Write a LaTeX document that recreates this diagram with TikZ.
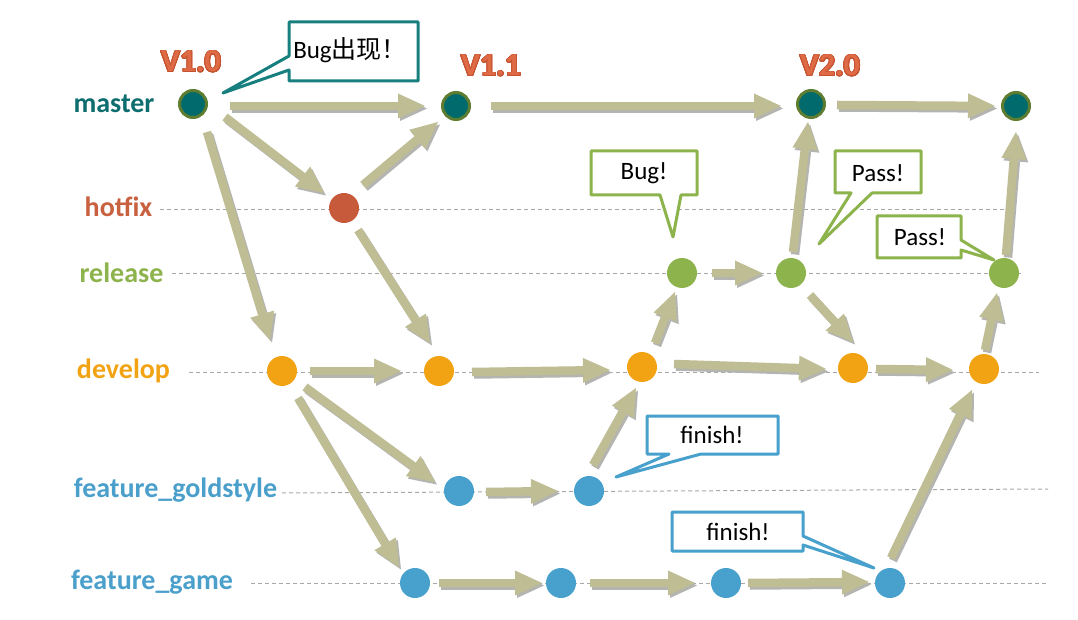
\documentclass[tikz,border=0pt]{standalone}
\usepackage{fontspec}
\setmainfont{Carlito}
\newfontfamily\cjkfont{Noto Sans CJK SC}
\usepackage{contour}
\contourlength{0.9pt}
\contournumber{24}
\usetikzlibrary{arrows.meta}

\definecolor{cMaster}{HTML}{006A6C}
\definecolor{cMasterRim}{HTML}{5E7D31}
\definecolor{cMasterTxt}{HTML}{0E6E6F}
\definecolor{cHot}{HTML}{C65A3B}
\definecolor{cHotTxt}{HTML}{C9603F}
\definecolor{cRel}{HTML}{8DB34C}
\definecolor{cDev}{HTML}{F2A314}
\definecolor{cFeat}{HTML}{47A1CC}
\definecolor{cFeatTxt}{HTML}{4A9FCB}
\definecolor{cArrow}{HTML}{BFBD93}
\definecolor{cArrowSh}{HTML}{B4B4B0}
\definecolor{cGuide}{HTML}{A8A8A8}
\definecolor{cVer}{HTML}{DE6B45}
\definecolor{cVerRim}{HTML}{C5532F}
\definecolor{cTealBox}{HTML}{17807F}

\tikzset{
  commit/.style={circle, inner sep=0pt, minimum size=30pt},
  mcommit/.style={commit, fill=cMaster, draw=cMasterRim, line width=3pt, minimum size=27pt},
  hcommit/.style={commit, fill=cHot},
  rcommit/.style={commit, fill=cRel},
  dcommit/.style={commit, fill=cDev},
  fcommit/.style={commit, fill=cFeat},
  branch/.style={font=\bfseries\fontsize{28}{30}\selectfont, anchor=base, inner sep=0pt},
  version/.style={font=\bfseries\fontsize{32}{34}\selectfont, anchor=base, inner sep=0pt, text=cVer},
  guide/.style={draw=cGuide, line width=1pt, dash pattern=on 4pt off 3pt},
  flow/.style={draw=cArrow, line width=8.5pt,
    -{Triangle[length=27pt,width=25pt,line width=0pt]}},
  flowshadow/.style={flow, draw=cArrowSh, transform canvas={shift={(2pt,-2.5pt)}}},
  callout/.style={fill=white, line width=3pt, line join=round},
  calltext/.style={font=\fontsize{25}{28}\selectfont, inner sep=0pt}
}

% merge/branch arrow with a soft drop shadow:
% #1 from-node, #2 offset from its centre, #3 to-node, #4 offset from its centre
\newcommand\flowarrow[4]{%
  \draw[flowshadow] ([shift={#2}]#1.center) -- ([shift={#4}]#3.center);
  \draw[flow] ([shift={#2}]#1.center) -- ([shift={#4}]#3.center);}

\begin{document}
\begin{tikzpicture}[x=1pt, y=-1pt]
\path[use as bounding box, fill=white] (0,0) rectangle (1078,620);

% branch names
\node[branch, text=cMasterTxt] (lmaster) at (114,113) {master};
\node[branch, text=cHotTxt] (lhotfix) at (118.5,217) {hotfix};
\node[branch, text=cRel] (lrelease) at (121.5,282) {release};
\node[branch, text=cDev] (ldevelop) at (123.5,378) {develop};
\node[branch, text=cFeatTxt] (lgold) at (175.5,497) {feature\_goldstyle};
\node[branch, text=cFeatTxt] (lgame) at (152,589) {feature\_game};

% dashed branch guide lines
\coordinate (hfL) at (160,210);  \coordinate (hfR) at (1004,210);
\coordinate (reL) at (172,273);  \coordinate (reR) at (1021,273);
\coordinate (dvL) at (189,372);  \coordinate (dvR) at (1039,372);
\coordinate (goL) at (282,493);  \coordinate (goR) at (1048,489);
\coordinate (gaL) at (251,583);  \coordinate (gaR) at (1046,583);
\draw[guide] (hfL) -- (hfR);
\draw[guide] (reL) -- (reR);
\draw[guide] (dvL) -- (dvR);
\draw[guide] (goL) -- (goR);
\draw[guide] (gaL) -- (gaR);

% version tags
\node[version] (v10) at (191,72) {\contour{cVerRim}{V1.0}};
\node[version] (v11) at (491,76) {\contour{cVerRim}{V1.1}};
\node[version] (v20) at (830,76) {\contour{cVerRim}{V2.0}};

% commits
\node[mcommit] (m1) at (193,104) {};
\node[mcommit] (m2) at (456,106) {};
\node[mcommit] (m3) at (811,104) {};
\node[mcommit] (m4) at (1016,106) {};
\node[hcommit] (hf) at (344,208) {};
\node[rcommit] (r1) at (682,273) {};
\node[rcommit] (r2) at (791,273) {};
\node[rcommit] (r3) at (1004,273) {};
\node[dcommit] (d1) at (282,371) {};
\node[dcommit] (d2) at (439,371) {};
\node[dcommit] (d3) at (642,367) {};
\node[dcommit] (d4) at (853,368) {};
\node[dcommit] (d5) at (984,369) {};
\node[fcommit] (g1) at (459,491) {};
\node[fcommit] (g2) at (589,491) {};
\node[fcommit] (f1) at (415,583) {};
\node[fcommit] (f2) at (561,583) {};
\node[fcommit] (f3) at (726,583) {};
\node[fcommit] (f4) at (890,583) {};

% master line
\flowarrow{m1}{(37,2)}{m2}{(-31,0)}
\flowarrow{m2}{(35,0)}{m3}{(-30,2)}
\flowarrow{m3}{(26,1)}{m4}{(-21,0)}
% hotfix
\flowarrow{m1}{(32,13)}{hf}{(-20,-15)}
\flowarrow{hf}{(19,-23)}{m2}{(-18,16)}
\flowarrow{hf}{(14,22)}{d2}{(-9,-28)}
% develop
\flowarrow{m1}{(14,28)}{d1}{(-12,-31)}
\flowarrow{d1}{(28,0)}{d2}{(-38,0)}
\flowarrow{d2}{(33,1)}{d3}{(-32,3)}
\flowarrow{d3}{(32,-3)}{d4}{(-27,1)}
\flowarrow{d4}{(23,1)}{d5}{(-31,1)}
% features
\flowarrow{d1}{(23,16)}{g1}{(-24,-9)}
\flowarrow{d1}{(16,27)}{f1}{(-16,-16)}
\flowarrow{g1}{(27,1)}{g2}{(-31,0)}
\flowarrow{g2}{(4,-26)}{d3}{(-6,21)}
\flowarrow{f1}{(24,0)}{f2}{(-19,0)}
\flowarrow{f2}{(29,0)}{f3}{(-31,0)}
\flowarrow{f3}{(22,0)}{f4}{(-21,-1)}
\flowarrow{f4}{(1,-25)}{d5}{(-12,21)}
% release
\flowarrow{d3}{(13,-24)}{r1}{(-7,19)}
\flowarrow{r1}{(30,0)}{r2}{(-29,0)}
\flowarrow{r2}{(19,22)}{d4}{(0,-26)}
\flowarrow{r2}{(2,-21)}{m3}{(-3,18)}
\flowarrow{d5}{(1,-19)}{r3}{(-7,20)}
\flowarrow{r3}{(2,-18)}{m4}{(0,26)}

% speech bubbles
\draw[callout, draw=cTealBox] (289,22) -- (418,22) -- (418,81) -- (289,81)
  -- (289,70) -- (223,93) -- (289,56) -- cycle;
\node[calltext] (cbug) at (350,50) {Bug{\cjkfont 出现！}};

\draw[callout, draw=cRel] (591,151) -- (697,151) -- (697,195) -- (681,195)
  -- (673,237) -- (660,195) -- (591,195) -- cycle;
\node[calltext] (cbug2) at (644,173) {Bug!};

\draw[callout, draw=cRel] (835,151) -- (921,151) -- (921,193) -- (872,193)
  -- (819,244) -- (851,193) -- (835,193) -- cycle;
\node[calltext] (cpass1) at (878,173) {Pass!};

\draw[callout, draw=cRel] (877,216) -- (961,216) -- (961,240) -- (994,260)
  -- (961,250) -- (961,258) -- (877,258) -- cycle;
\node[calltext] (cpass2) at (920,237) {Pass!};

\draw[callout, draw=cFeat] (647,416) -- (778,416) -- (778,454) -- (701,454)
  -- (616,477) -- (669,454) -- (647,454) -- cycle;
\node[calltext] (cfin1) at (712,435) {finish!};

\draw[callout, draw=cFeat] (672,512) -- (803,512) -- (803,536) -- (874,568)
  -- (803,545) -- (803,551) -- (672,551) -- cycle;
\node[calltext] (cfin2) at (738,532) {finish!};
\end{tikzpicture}
\end{document}
